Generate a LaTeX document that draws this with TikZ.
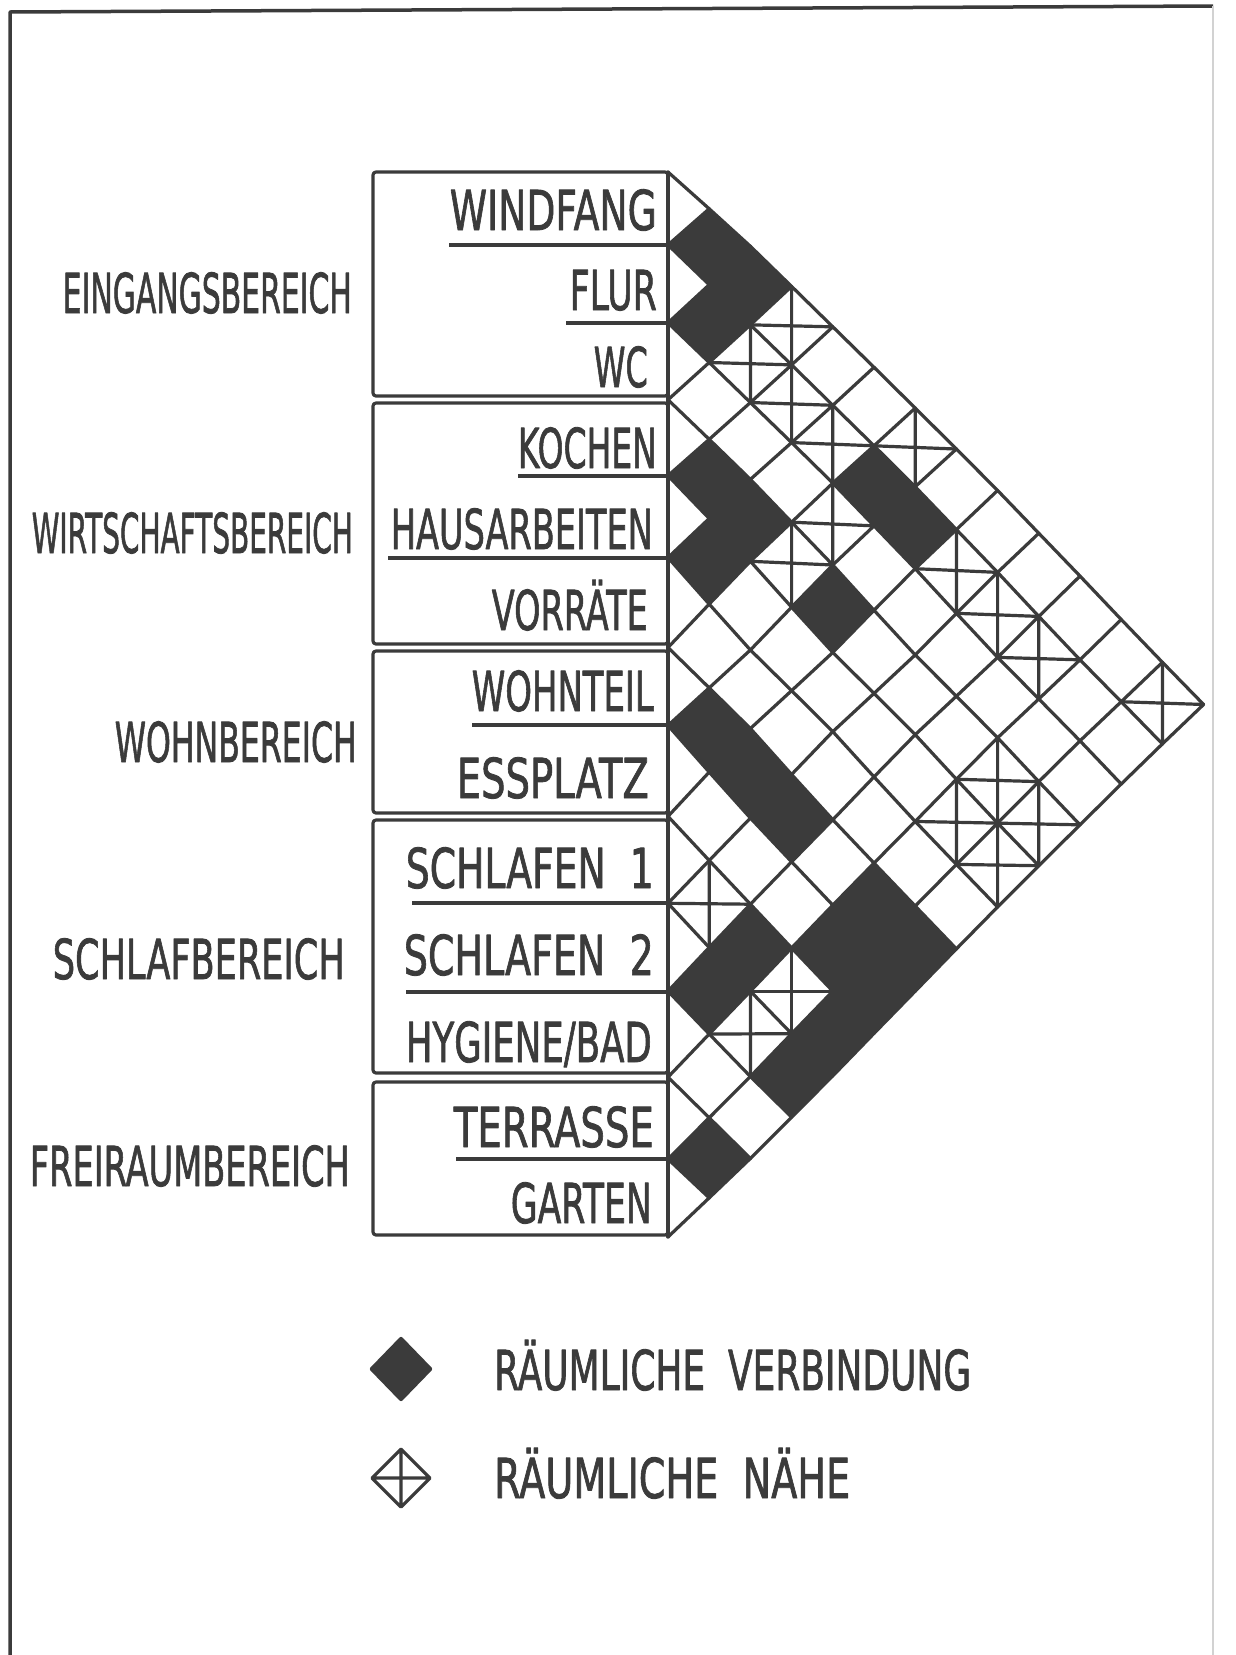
\documentclass[tikz,border=0pt]{standalone}
\usepackage{fontspec}
\setmainfont{DejaVu Sans}
\newfontfamily\labfont{DejaVu Sans}[FakeBold=1.6]
\definecolor{ink}{gray}{0.23}
\newcommand\fitw[2]{\resizebox{#1}{\height}{#2}}
\tikzset{
  gridline/.style={draw=ink, line width=3.2pt, line cap=round},
  boxline/.style={draw=ink, line width=3.2pt},
  lab/.style={inner sep=0pt, text=ink, font=\labfont\fontsize{55}{60}\selectfont},
}
% warped lattice point: #1 name, #2 p (half-cells right), #3 q (half-cells down)
\def\Darr{{0,-9,-13,-18,-24,-24,-16,-20,-11,-6,0,4,4,0,0}}
\newcommand\wpt[3]{%
  \pgfmathsetmacro\tmpk{(#3)/2}%
  \pgfmathtruncatemacro\tmpi{floor(\tmpk)}%
  \pgfmathtruncatemacro\tmpj{\tmpi+1}%
  \pgfmathsetmacro\tmpf{\tmpk-\tmpi}%
  \pgfmathsetmacro\tmpa{\Darr[\tmpi]}%
  \pgfmathsetmacro\tmpb{\Darr[\tmpj]}%
  \pgfmathsetmacro\tmpd{\tmpa*(1-\tmpf)+\tmpb*\tmpf}%
  \pgfmathsetmacro\tmpx{668+(#2)*41.2}%
  \pgfmathsetmacro\tmpy{172+(#3)*40.96+\tmpd*(1-(#2)/13)}%
  \coordinate (#1) at (\tmpx,\tmpy);%
}
\begin{document}
\begin{tikzpicture}[x=1pt,y=-1pt,line join=round]
\useasboundingbox (0,0) rectangle (1235,1655);
\fill[white] (0,0) rectangle (1235,1655);
% frame
\draw[ink, line width=3.5pt] (10,1655) -- (10,12) -- (1213,6);
\draw[gray!35, line width=1.5pt] (1213,6) -- (1213,1655);
% filled cells
\foreach \i/\j in {1/2,1/3,2/3,4/5,4/6,5/6,2/7,2/8,4/8,7/8,7/9,7/10,9/11,10/11,7/12,7/13,8/12,8/13,9/13,10/13,12/13}{
  \pgfmathtruncatemacro\pp{\j-\i}
  \pgfmathtruncatemacro\qq{\i+\j-1}
  \pgfmathtruncatemacro\pl{\pp-1}
  \pgfmathtruncatemacro\pr{\pp+1}
  \pgfmathtruncatemacro\qt{\qq-1}
  \pgfmathtruncatemacro\qb{\qq+1}
  \wpt{L}{\pl}{\qq}\wpt{R}{\pr}{\qq}\wpt{T}{\pp}{\qt}\wpt{B}{\pp}{\qb}
  \fill[ink] (L) -- (T) -- (R) -- (B) -- cycle;
}
% crossed cells
\foreach \i/\j in {1/4,2/4,2/5,2/6,1/7,3/7,4/7,2/9,2/10,2/11,4/12,5/12,4/13,5/13,9/10,9/12,10/12,1/13}{
  \pgfmathtruncatemacro\pp{\j-\i}
  \pgfmathtruncatemacro\qq{\i+\j-1}
  \pgfmathtruncatemacro\pl{\pp-1}
  \pgfmathtruncatemacro\pr{\pp+1}
  \pgfmathtruncatemacro\qt{\qq-1}
  \pgfmathtruncatemacro\qb{\qq+1}
  \wpt{L}{\pl}{\qq}\wpt{R}{\pr}{\qq}\wpt{T}{\pp}{\qt}\wpt{B}{\pp}{\qb}\wpt{C}{\pp}{\qq}
  \draw[gridline] (L) -- (C) -- (R) (T) -- (C) -- (B);
}
% grid
\foreach \p in {0,...,12}{
  \pgfmathtruncatemacro\qs{\p+2}
  \pgfmathtruncatemacro\qe{26-\p}
  \pgfmathtruncatemacro\pn{\p+1}
  \foreach \q in {\p,\qs,...,\qe}{
    \pgfmathtruncatemacro\qu{\q+1}
    \pgfmathtruncatemacro\qd{\q-1}
    \wpt{a}{\p}{\q}
    \ifnum\q<\numexpr25-\p\relax \wpt{b}{\pn}{\qu}\draw[gridline] (a) -- (b);\fi
    \ifnum\q>\numexpr\p+1\relax \wpt{c}{\pn}{\qd}\draw[gridline] (a) -- (c);\fi
  }
}
\draw[gridline] (668,172) -- (668,1237);
% group boxes
\draw[boxline, rounded corners=3pt] (373,172) rectangle (668,396);
\draw[boxline, rounded corners=3pt] (373,403) rectangle (668,644);
\draw[boxline, rounded corners=3pt] (373,651) rectangle (668,813);
\draw[boxline, rounded corners=3pt] (373,820) rectangle (668,1073);
\draw[boxline, rounded corners=3pt] (373,1082) rectangle (668,1235);
% separators
\draw[boxline] (449,245) -- (668,245);
\draw[boxline] (566,323) -- (668,323);
\draw[boxline] (518,476) -- (668,476);
\draw[boxline] (388,558) -- (668,558);
\draw[boxline] (472,725) -- (668,725);
\draw[boxline] (412,903) -- (668,903);
\draw[boxline] (406,992) -- (668,992);
\draw[boxline] (456,1159) -- (668,1159);
% item labels
\node[lab, anchor=base east] (windfang) at (657,230) {\fitw{207pt}{WINDFANG}};
\node[lab, anchor=base east] (flur) at (657,310) {\fitw{87pt}{FLUR}};
\node[lab, anchor=base east] (wc) at (648,387) {\fitw{54pt}{WC}};
\node[lab, anchor=base east] (kochen) at (657,468) {\fitw{139pt}{KOCHEN}};
\node[lab, anchor=base east] (haus) at (653,549) {\fitw{262pt}{HAUSARBEITEN}};
\node[lab, anchor=base east] (vorr) at (648,630) {\fitw{156pt}{VORRÄTE}};
\node[lab, anchor=base east] (wohnteil) at (654,711) {\fitw{182pt}{WOHNTEIL}};
\node[lab, anchor=base east] (ess) at (649,798) {\fitw{192pt}{ESSPLATZ}};
\node[lab, anchor=base east] (schl1) at (654,888) {\fitw{248pt}{SCHLAFEN\ \ 1}};
\node[lab, anchor=base east] (schl2) at (654,975) {\fitw{250pt}{SCHLAFEN\ \ 2}};
\node[lab, anchor=base east] (hyg) at (652,1062) {\fitw{246pt}{HYGIENE/BAD}};
\node[lab, anchor=base east] (terr) at (654,1147) {\fitw{200pt}{TERRASSE}};
\node[lab, anchor=base east] (garten) at (652,1223) {\fitw{141pt}{GARTEN}};
% group labels
\node[lab, anchor=base east] (g1) at (352,313) {\fitw{289pt}{EINGANGSBEREICH}};
\node[lab, anchor=base east] (g2) at (353,553) {\fitw{321pt}{WIRTSCHAFTSBEREICH}};
\node[lab, anchor=base east] (g3) at (357,762) {\fitw{242pt}{WOHNBEREICH}};
\node[lab, anchor=base east] (g4) at (345,979) {\fitw{292pt}{SCHLAFBEREICH}};
\node[lab, anchor=base east] (g5) at (350,1186) {\fitw{320pt}{FREIRAUMBEREICH}};
% legend
\fill[ink, rounded corners=2pt] (369,1369) -- (401,1336) -- (433,1369) -- (401,1402) -- cycle;
\draw[boxline] (372,1478) -- (401,1449) -- (430,1478) -- (401,1507) -- cycle
  (372,1478) -- (430,1478) (401,1449) -- (401,1507);
\node[lab, anchor=base west] (leg1) at (494,1390) {\fitw{477pt}{RÄUMLICHE\ \ VERBINDUNG}};
\node[lab, anchor=base west] (leg2) at (494,1498) {\fitw{356pt}{RÄUMLICHE\ \ NÄHE}};
\end{tikzpicture}
\end{document}
